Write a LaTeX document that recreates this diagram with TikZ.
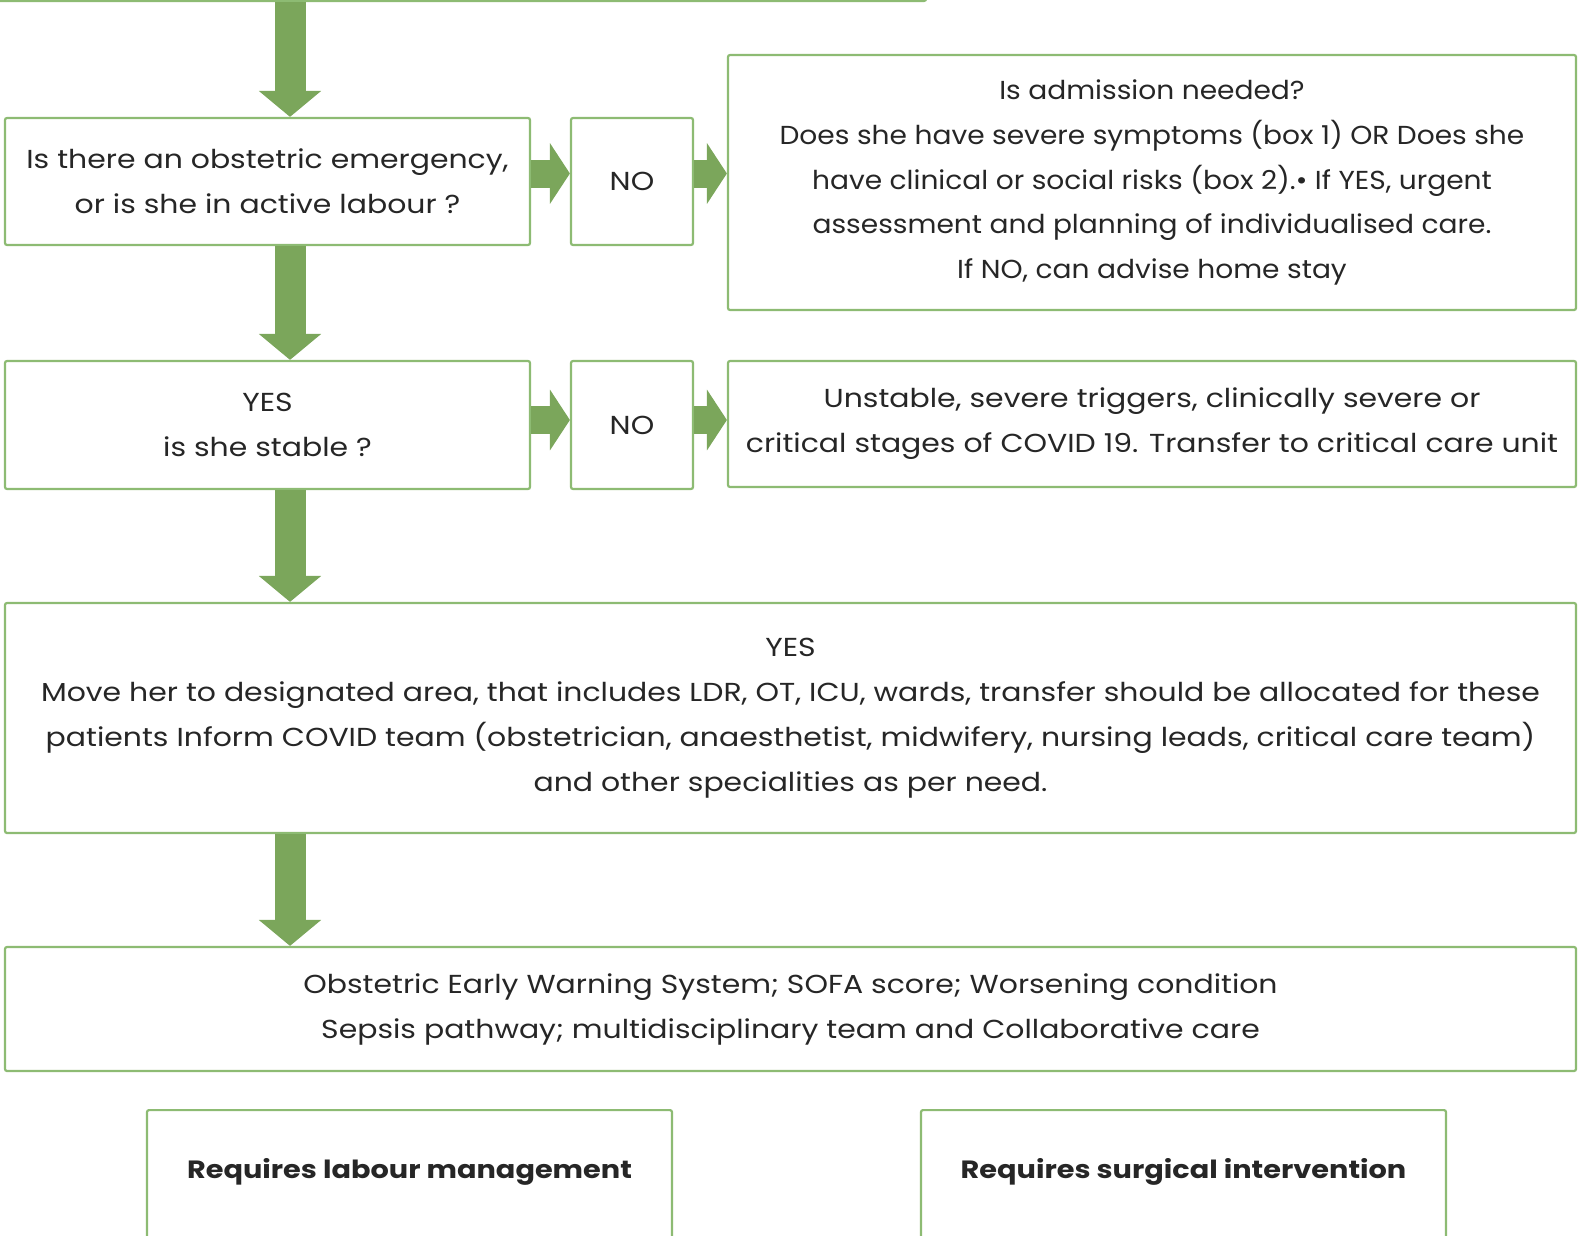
\documentclass[tikz,border=0pt]{standalone}
\usepackage{fontspec}
\setmainfont{Poppins}[FakeStretch=1.15]
\newfontfamily\narrowfont{Poppins}[FakeStretch=1.08]
\usetikzlibrary{arrows.meta,calc}
\definecolor{arrowgreen}{HTML}{7BA65B}
\definecolor{boxgreen}{HTML}{8DBB73}
\definecolor{txt}{HTML}{262626}
\begin{document}
\begin{tikzpicture}[x=1pt,y=-1pt,
 box/.style={draw=boxgreen, line width=2.2pt, rounded corners=2pt, inner sep=0pt, align=center, text=txt, font=\fontsize{26}{45}\selectfont},
 btxt/.style={text=txt, font=\fontsize{25}{45}\selectfont\bfseries},
 vflow/.style={draw=arrowgreen, line width=31pt, -{Triangle[width=61pt,length=26pt]}},
 hflow/.style={draw=arrowgreen, line width=28pt, -{Triangle[width=60pt,length=20pt]}},
]
\useasboundingbox (0,0) rectangle (1578,1235);
\node[box, minimum width=930, minimum height=40, anchor=south west] (top) at (-5,2) {};
\node[box, minimum width=525, minimum height=127] (A) at (267.5,181.5) {Is there an obstetric emergency,\\or is she in active labour ?};
\node[box, minimum width=122, minimum height=127] (NO1) at (632,181.5) {NO};
\node[box, minimum width=848, minimum height=255, font=\fontsize{26}{44.7}\narrowfont] (B) at (1152,182.5) {Is admission needed?\\Does she have severe symptoms (box 1) OR Does she\\have clinical or social risks (box 2).\textbullet{} If YES, urgent\\assessment and planning of individualised care.\\If NO, can advise home stay};
\node[box, minimum width=525, minimum height=128] (C) at (267.5,425) {YES\\is she stable ?};
\node[box, minimum width=122, minimum height=128] (NO2) at (632,425) {NO};
\node[box, minimum width=848, minimum height=126] (D) at (1152,424) {Unstable, severe triggers, clinically severe or\\critical stages of COVID 19. Transfer to critical care unit};
\node[box, minimum width=1571, minimum height=230] (E) at (790.5,718) {YES\\Move her to designated area, that includes LDR, OT, ICU, wards, transfer should be allocated for these\\patients Inform COVID team (obstetrician, anaesthetist, midwifery, nursing leads, critical care team)\\and other specialities as per need.};
\node[box, minimum width=1571, minimum height=124] (F) at (790.5,1009) {Obstetric Early Warning System; SOFA score; Worsening condition\\Sepsis pathway; multidisciplinary team and Collaborative care};
\node[box, minimum width=525, minimum height=150, anchor=north] (G) at (409.5,1109) {};
\node[box, minimum width=525, minimum height=150, anchor=north] (H) at (1183.5,1109) {};
\node[btxt] (Gt) at (409.5,1172) {Requires labour management};
\node[btxt] (Ht) at (1183.5,1172) {Requires surgical intervention};
\coordinate (col) at (290,0);
\draw[vflow] (top.south -| col) -- (A.north -| col);
\draw[vflow] (A.south -| col) -- (C.north -| col);
\draw[vflow] (C.south -| col) -- (E.north -| col);
\draw[vflow] (E.south -| col) -- (F.north -| col);
\draw[hflow] ([yshift=8pt]A.east) -- ([yshift=8pt]NO1.west);
\draw[hflow] ([yshift=8pt]NO1.east) -- ([yshift=8pt]NO1.east -| B.west);
\draw[hflow] ([yshift=5pt]C.east) -- ([yshift=5pt]NO2.west);
\draw[hflow] ([yshift=5pt]NO2.east) -- ([yshift=5pt]NO2.east -| D.west);
\end{tikzpicture}
\end{document}
